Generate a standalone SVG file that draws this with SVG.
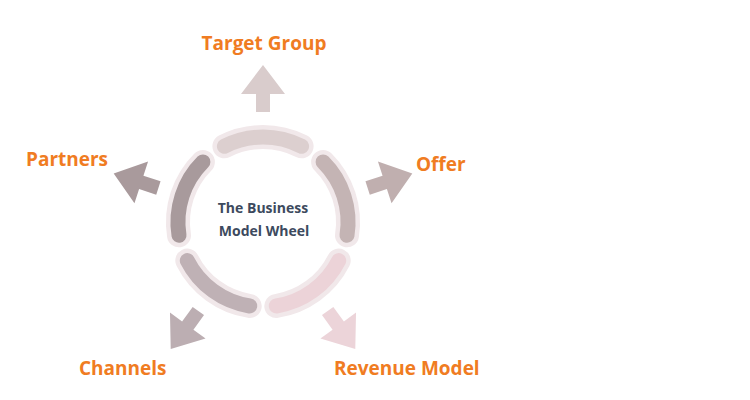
<svg xmlns="http://www.w3.org/2000/svg" width="750" height="400" viewBox="0 0 750 400">
<style>
.halo{fill:none;stroke:#f1e8ea;stroke-width:24;stroke-linecap:round}
.seg{fill:none;stroke-width:15;stroke-linecap:round}
.lbl{font-family:"Open Sans","Liberation Sans",sans-serif;font-weight:bold;font-size:19px;fill:#f07c22}
.ctr{font-family:"Open Sans","Liberation Sans",sans-serif;font-weight:bold;font-size:14px;fill:#3d4a5e;text-anchor:middle}
</style>
<defs>
<polygon id="arr" points="110,-7 128,-7 128,-22 157,0 128,22 128,7 110,7"/>
</defs>
<g id="connectors">
<use href="#arr" transform="translate(263,222) rotate(-90)" fill="#d9cccc"/>
<use href="#arr" transform="translate(263,222) rotate(-18)" fill="#c0afaf"/>
<use href="#arr" transform="translate(263,222) rotate(54)" fill="#ecd4d9"/>
<use href="#arr" transform="translate(263,222) rotate(126)" fill="#bcaeb2"/>
<use href="#arr" transform="translate(263,222) rotate(198)" fill="#a99a9c"/>
</g>
<g id="wheel">
<path class="halo" d="M224.4,146.3 A85,85 0 0 1 301.6,146.3"/>
<path class="halo" d="M323.1,161.9 A85,85 0 0 1 347,235.3"/>
<path class="halo" d="M338.7,260.6 A85,85 0 0 1 276.3,306"/>
<path class="halo" d="M249.7,306 A85,85 0 0 1 187.3,260.6"/>
<path class="halo" d="M179,235.3 A85,85 0 0 1 202.9,161.9"/>
<path class="seg" stroke="#dccfcf" d="M224.4,146.3 A85,85 0 0 1 301.6,146.3"/>
<path class="seg" stroke="#c4b4b4" d="M323.1,161.9 A85,85 0 0 1 347,235.3"/>
<path class="seg" stroke="#ecd3d8" d="M338.7,260.6 A85,85 0 0 1 276.3,306"/>
<path class="seg" stroke="#bfb1b5" d="M249.7,306 A85,85 0 0 1 187.3,260.6"/>
<path class="seg" stroke="#a89a9c" d="M179,235.3 A85,85 0 0 1 202.9,161.9"/>
</g>
<g id="center"><text class="ctr" x="263" y="213">The Business</text><text class="ctr" x="264" y="236">Model Wheel</text></g>
<g id="target"><text class="lbl" x="264" y="50" text-anchor="middle">Target Group</text></g>
<g id="offer"><text class="lbl" x="416" y="171">Offer</text></g>
<g id="revenue"><text class="lbl" x="334" y="375">Revenue Model</text></g>
<g id="channels"><text class="lbl" x="79" y="375">Channels</text></g>
<g id="partners"><text class="lbl" x="26" y="166">Partners</text></g>
</svg>
